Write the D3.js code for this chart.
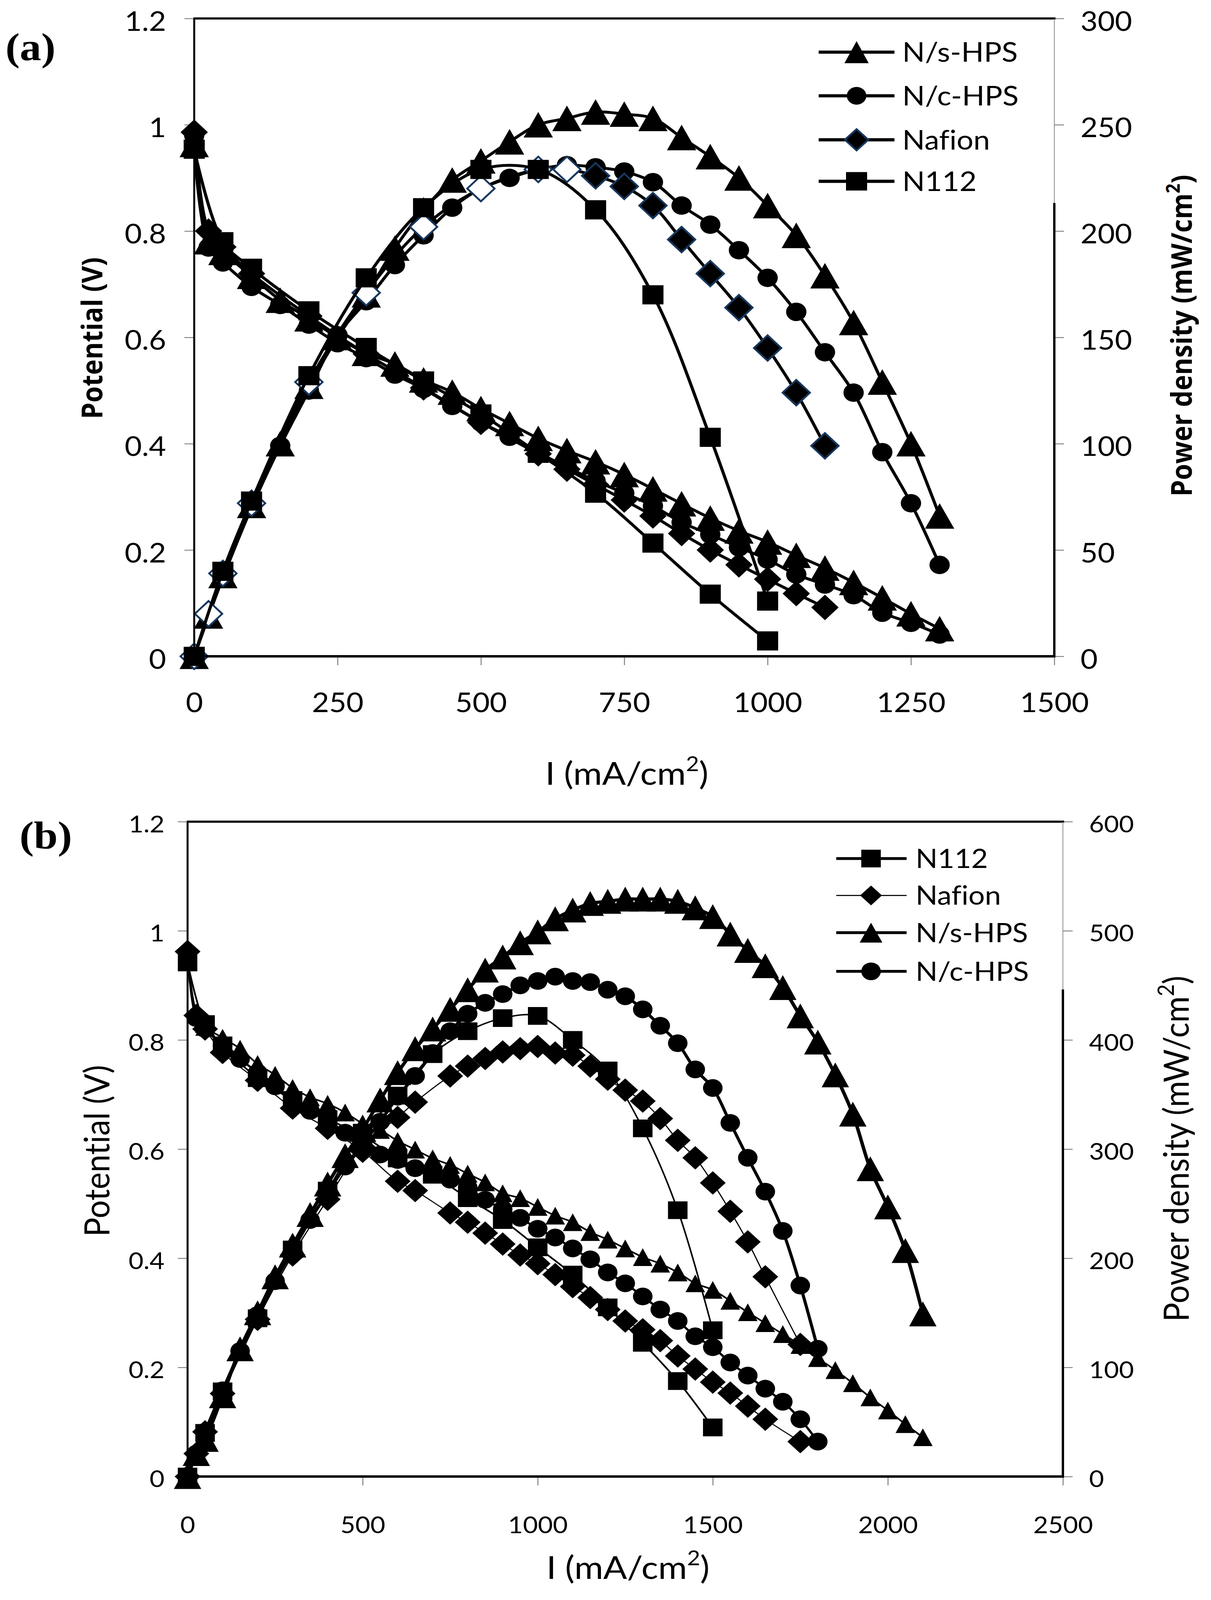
<!DOCTYPE html>
<html>
<head>
<meta charset="utf-8">
<script src="https://cdn.jsdelivr.net/npm/d3@7"></script>
<style>
  html, body { margin: 0; padding: 0; background: #fff; overflow: hidden; }
  svg { display: block; width: 100vw; height: 100vh; }
  text { font-variant-ligatures: none; font-feature-settings: "liga" 0; }
</style>
</head>
<body>
<svg id="fig" viewBox="0 0 3099 4510" preserveAspectRatio="none"></svg>
<script>
// ---------- panel (a) data ----------
var aCurrent = [0,25,50,100,150,200,250,300,350,400,450,500,550,600,650,700,750,800,850,900,950,1000,1050,1100,1150,1200,1250,1300];
var aNsV = [0.963,0.78,0.76,0.715,0.67,0.635,0.6,0.57,0.55,0.52,0.497,0.466,0.438,0.41,0.387,0.366,0.342,0.315,0.287,0.26,0.236,0.215,0.19,0.166,0.139,0.11,0.08,0.052];
var aNsP = [0,19,38,71,100,127,150,170,192,210,224,233,242,250,253,256,255,253,244,235,225,212,198,179,157,129,100,66];
var aNcV = [0.98,0.769,0.741,0.695,0.661,0.624,0.589,0.561,0.53,0.503,0.471,0.44,0.413,0.383,0.356,0.33,0.307,0.283,0.252,0.229,0.205,0.182,0.154,0.135,0.115,0.082,0.063,0.041];
var aNcP = [0,19,37,70,99,125,151,167,184,198,211,220,225,229,231,230,228,223,212,203,191,178,162,143,124,96,72,43];
var aNafionI = [0,25,50,100,200,300,400,500,600,650,700,750,800,850,900,950,1000,1050,1100];
var aNafionV = [0.986,0.8,0.77,0.72,0.64,0.569,0.505,0.44,0.381,0.352,0.323,0.294,0.264,0.231,0.2,0.172,0.145,0.118,0.092];
var aNafionP = [0,20,39,72,129,171,202,220,229,229,226,221,212,196,180,164,145,124,99];
var aN112I = [0,50,100,200,300,400,500,600,700,800,900,1000];
var aN112V = [0.954,0.78,0.73,0.65,0.581,0.518,0.456,0.382,0.307,0.213,0.117,0.029];
var aN112P = [0,40,73,132,178,211,229,229,210,170,103,26];

// ---------- panel (b) data ----------
var bNsI = [0,25,50,100,150,200,250,300,350,400,450,500,550,600,650,700,750,800,850,900,950,1000,1050,1100,1150,1200,1250,1300,1350,1400,1450,1500,1550,1600,1650,1700,1750,1800,1850,1900,1950,2000,2050,2100];
var bNsV = [0.955,0.85,0.824,0.804,0.784,0.756,0.736,0.712,0.695,0.683,0.667,0.647,0.635,0.615,0.599,0.583,0.571,0.555,0.539,0.519,0.51,0.494,0.478,0.466,0.448,0.434,0.418,0.402,0.39,0.374,0.354,0.342,0.322,0.301,0.281,0.261,0.241,0.217,0.195,0.171,0.145,0.121,0.096,0.072];
var bNsP = [0,21,34,74,117,150,183,212,240,268,294,318,345,370,392,410,428,446,464,476,489,499,511,519,525,527,529,529,529,527,521,513,497,482,468,448,422,398,368,332,282,247,207,149];
var bNcI = [0,25,50,100,150,200,250,300,350,400,450,500,550,600,650,700,750,800,850,900,950,1000,1050,1100,1150,1200,1250,1300,1350,1400,1450,1500,1550,1600,1650,1700,1750,1800];
var bNcV = [0.96,0.84,0.82,0.79,0.765,0.74,0.715,0.69,0.67,0.65,0.63,0.61,0.59,0.58,0.565,0.555,0.544,0.53,0.507,0.49,0.474,0.454,0.438,0.418,0.398,0.374,0.354,0.33,0.306,0.285,0.257,0.237,0.209,0.185,0.161,0.137,0.105,0.064];
var bNcP = [0,21,41,79,115,148,179,207,235,260,284,305,325,348,367,388,408,424,434,442,450,454,458,454,453,446,440,428,413,397,373,356,324,292,261,225,175,117];
var bNafionI = [0,25,50,100,200,300,400,500,600,650,750,800,850,900,950,1000,1050,1100,1150,1200,1250,1300,1350,1400,1450,1500,1550,1600,1650,1750];
var bNafionV = [0.962,0.845,0.82,0.777,0.726,0.675,0.638,0.596,0.541,0.524,0.483,0.466,0.446,0.426,0.406,0.39,0.37,0.348,0.328,0.306,0.285,0.269,0.249,0.221,0.197,0.173,0.153,0.129,0.105,0.064];
var bNafionP = [0,21,41,76,144,203,254,302,329,343,367,376,383,389,392,394,388,386,376,364,354,344,328,308,292,269,243,215,183,121];
var bN112I = [0,50,100,200,300,400,500,600,700,800,900,1000,1100,1200,1300,1400,1500];
var bN112V = [0.942,0.829,0.79,0.73,0.69,0.655,0.625,0.583,0.553,0.51,0.47,0.42,0.37,0.31,0.245,0.175,0.09];
var bN112P = [0,40,78,145,208,262,315,349,387,408,420,422,400,372,319,244,134];

// ---------- tick labels ----------
var potentialTicks = [0,0.2,0.4,0.6,0.8,1,1.2];
var aCurrentTicks = [0,250,500,750,1000,1250,1500];
var aPowerTicks = [0,50,100,150,200,250,300];
var bCurrentTicks = [0,500,1000,1500,2000,2500];
var bPowerTicks = [0,100,200,300,400,500,600];

var NAVY = '#17375e';
var svg = d3.select('#fig');
svg.append('rect').attr('width', 3099).attr('height', 4510).attr('fill', '#fff');

// marker outline centred on 0,0
function markerPath(shape, w, h) {
    if (shape === 'triangle') return 'M0,' + (-h/2) + 'L' + (w/2) + ',' + (h/2) + 'L' + (-w/2) + ',' + (h/2) + 'Z';
    if (shape === 'diamond') return 'M0,' + (-h/2) + 'L' + (w/2) + ',0L0,' + (h/2) + 'L' + (-w/2) + ',0Z';
    if (shape === 'square') return 'M' + (-w/2) + ',' + (-h/2) + 'h' + w + 'v' + h + 'h' + (-w) + 'Z';
    // circle
    var r = w / 2;
    return 'M' + (-r) + ',0a' + r + ',' + r + ' 0 1,0 ' + (2*r) + ',0a' + r + ',' + r + ' 0 1,0 ' + (-2*r) + ',0Z';
}

function drawCurve(g, xs, ys, curr, vals, st) {
    var pts = curr.map(function(c, i) { return [c, vals[i]]; });
    var line = d3.line()
        .x(function(d) { return xs(d[0]); })
        .y(function(d) { return ys(d[1]); })
        .curve(d3.curveCatmullRom.alpha(0.5));
    g.append('path')
        .attr('d', line(pts))
        .attr('fill', 'none')
        .attr('stroke', '#000')
        .attr('stroke-width', st.lw)
        .attr('stroke-linejoin', 'round');
    g.selectAll(null).data(pts).enter().append('path')
        .attr('d', markerPath(st.shape, st.w, st.h))
        .attr('transform', function(d) { return 'translate(' + xs(d[0]) + ',' + ys(d[1]) + ')'; })
        .attr('fill', function(d) { return typeof st.fill === 'function' ? st.fill(d) : st.fill; })
        .attr('stroke', st.stroke || 'none')
        .attr('stroke-width', st.sw || 0);
}

function styleAxis(ax, fontSize) {
    ax.select('.domain').remove();
    ax.selectAll('.tick line').attr('stroke', '#808080').attr('stroke-width', 2.5);
    ax.selectAll('.tick text')
        .attr('font-family', 'Lato, sans-serif')
        .attr('font-size', fontSize)
        .attr('fill', '#000');
}

function rotatedTitle(g, x, y, main, sup, tail, font) {
    var t = g.append('text')
        .attr('transform', 'translate(' + x + ',' + y + ') rotate(-90)')
        .attr('text-anchor', 'middle')
        .attr('font-family', font.family)
        .attr('font-weight', font.weight)
        .attr('font-size', font.size)
        .attr('fill', '#000');
    t.append('tspan').text(main);
    if (sup) {
        t.append('tspan').attr('font-size', font.size * 0.65).attr('dy', -font.size * 0.42).text(sup);
        t.append('tspan').attr('dy', font.size * 0.42).text(tail);
    }
}

function drawPanel(p) {
    var g = svg.append('g');
    var x = d3.scaleLinear().domain(p.xDomain).range([p.left, p.right]);
    var yV = d3.scaleLinear().domain([0, 1.2]).range([p.bottom, p.top]);
    var yP = d3.scaleLinear().domain([0, p.pMax]).range([p.bottom, p.top]);

    // axes
    var axL = g.append('g').attr('transform', 'translate(' + p.left + ',0)')
        .call(d3.axisLeft(yV).tickValues(potentialTicks).tickSize(25).tickPadding(p.padL).tickFormat(function(d) { return String(d); }));
    styleAxis(axL, p.tickFont);
    axL.selectAll('.tick text').attr('dy', '0.45em');
    var axB = g.append('g').attr('transform', 'translate(0,' + p.bottom + ')')
        .call(d3.axisBottom(x).tickValues(p.xTicks).tickSize(25).tickPadding(p.padB).tickFormat(function(d) { return String(d); }));
    styleAxis(axB, p.tickFont);
    var axR = g.append('g').attr('transform', 'translate(' + p.right + ',0)')
        .call(d3.axisRight(yP).tickValues(p.pTicks).tickSize(25).tickPadding(p.padR).tickFormat(function(d) { return String(d); }));
    styleAxis(axR, p.tickFont);
    axR.selectAll('.tick text').attr('dy', '0.45em');

    // series
    var plot = g.append('g');
    p.series.forEach(function(s) {
        drawCurve(plot, x, yP, s.I, s.P, s.pStyle);
        drawCurve(plot, x, yV, s.I, s.V, s.vStyle);
    });

    // legend
    var lg = g.append('g');
    lg.append('rect')
        .attr('x', p.legend.x0 - 20).attr('y', p.top + 8)
        .attr('width', p.right - p.legend.x0 + 20).attr('height', p.legend.boxBottom - p.top - 8)
        .attr('fill', '#fff');
    p.legend.items.forEach(function(it, i) {
        var yy = p.legend.rows[i];
        lg.append('line')
            .attr('x1', p.legend.x0).attr('x2', p.legend.x1)
            .attr('y1', yy).attr('y2', yy)
            .attr('stroke', '#000').attr('stroke-width', it.lw);
        lg.append('path')
            .attr('d', markerPath(it.shape, it.w, it.h))
            .attr('transform', 'translate(' + p.legend.xm + ',' + yy + ')')
            .attr('fill', '#000')
            .attr('stroke', it.stroke || 'none')
            .attr('stroke-width', it.sw || 0);
        lg.append('text')
            .attr('x', p.legend.xt).attr('y', yy).attr('dy', '0.36em')
            .attr('font-family', 'Lato, sans-serif').attr('font-size', p.legend.font)
            .text(it.name);
    });

    // frame
    var fr = g.append('g').attr('stroke', '#000').attr('fill', 'none');
    fr.append('line').attr('x1', p.left - 2).attr('x2', p.right + 3).attr('y1', p.top).attr('y2', p.top).attr('stroke-width', 6);
    fr.append('line').attr('x1', p.left - 2).attr('x2', p.right + 3).attr('y1', p.bottom).attr('y2', p.bottom).attr('stroke-width', 7);
    fr.append('line').attr('x1', p.left).attr('x2', p.left).attr('y1', p.top).attr('y2', p.bottom).attr('stroke-width', 5);
    fr.append('line').attr('x1', p.right).attr('x2', p.right).attr('y1', p.top).attr('y2', p.legend.boxBottom)
        .attr('stroke', '#8c8c8c').attr('stroke-width', 2);
    fr.append('line').attr('x1', p.right).attr('x2', p.right).attr('y1', p.legend.boxBottom).attr('y2', p.bottom).attr('stroke-width', 6);

    // titles
    rotatedTitle(g, p.titleL.x, p.titleL.y, 'Potential (V)', null, null, p.titleFont);
    rotatedTitle(g, p.titleR.x, p.titleR.y, 'Power density (mW/cm', '2', ')', p.titleFont);
    var xt = g.append('text')
        .attr('x', p.titleX.x).attr('y', p.titleX.y)
        .attr('text-anchor', 'middle')
        .attr('font-family', 'Lato, sans-serif').attr('font-size', 90).attr('fill', '#000');
    xt.append('tspan').text('I (mA/cm');
    xt.append('tspan').attr('font-size', 58).attr('dy', -38).text('2');
    xt.append('tspan').attr('dy', 38).text(')');

    g.append('text')
        .attr('x', p.tag.x).attr('y', p.tag.y)
        .attr('font-family', '"Liberation Serif", "Times New Roman", serif')
        .attr('font-weight', 'bold').attr('font-size', 110)
        .text(p.tag.text);
}

// ---------- panel (a) ----------
var aTri = {shape: 'triangle', w: 75, h: 72, fill: '#000', lw: 8};
var aCir = {shape: 'circle', w: 52, h: 52, fill: '#000', lw: 8};
var aSq = {shape: 'square', w: 54, h: 54, fill: '#000', lw: 8};
var aDiaV = {shape: 'diamond', w: 70, h: 72, fill: '#000', lw: 8};
var aDiaP = {shape: 'diamond', w: 70, h: 72, lw: 8, stroke: NAVY, sw: 5,
    fill: function(d) { return d[0] <= 650 ? '#fff' : '#000'; }};

drawPanel({
    left: 497, right: 2698, top: 52, bottom: 1850,
    xDomain: [0, 1500], pMax: 300,
    xTicks: aCurrentTicks, pTicks: aPowerTicks,
    tickFont: 76, padL: 47, padB: 78, padR: 42,
    series: [
        {I: aCurrent, V: aNsV, P: aNsP, vStyle: aTri, pStyle: aTri},
        {I: aCurrent, V: aNcV, P: aNcP, vStyle: aCir, pStyle: aCir},
        {I: aNafionI, V: aNafionV, P: aNafionP, vStyle: aDiaV, pStyle: aDiaP},
        {I: aN112I, V: aN112V, P: aN112P, vStyle: aSq, pStyle: aSq}
    ],
    legend: {
        x0: 2095, x1: 2289, xm: 2192, xt: 2309, font: 76, boxBottom: 572,
        rows: [147, 270, 394, 511],
        items: [
            {name: 'N/s-HPS', shape: 'triangle', w: 62, h: 62, lw: 9},
            {name: 'N/c-HPS', shape: 'circle', w: 50, h: 50, lw: 9},
            {name: 'Nafion', shape: 'diamond', w: 60, h: 60, lw: 9, stroke: NAVY, sw: 5},
            {name: 'N112', shape: 'square', w: 54, h: 52, lw: 9}
        ]
    },
    titleFont: {family: '"Open Sans", sans-serif', weight: 'bold', size: 74},
    titleL: {x: 262, y: 953}, titleR: {x: 3050, y: 946},
    titleX: {x: 1604, y: 2212},
    tag: {x: 14, y: 170, text: '(a)'}
});

// ---------- panel (b) ----------
drawPanel({
    left: 480, right: 2720, top: 2316, bottom: 4162,
    xDomain: [0, 2500], pMax: 600,
    xTicks: bCurrentTicks, pTicks: bPowerTicks,
    tickFont: 66, padL: 34, padB: 88, padR: 42,
    series: [
        {I: bN112I, V: bN112V, P: bN112P,
            vStyle: {shape: 'square', w: 50, h: 50, fill: '#000', lw: 4.5},
            pStyle: {shape: 'square', w: 50, h: 50, fill: '#000', lw: 4}},
        {I: bNafionI, V: bNafionV, P: bNafionP,
            vStyle: {shape: 'diamond', w: 66, h: 66, fill: '#000', lw: 3},
            pStyle: {shape: 'diamond', w: 66, h: 66, fill: '#000', lw: 3}},
        {I: bNsI, V: bNsV, P: bNsP,
            vStyle: {shape: 'triangle', w: 50, h: 50, fill: '#000', lw: 4.5},
            pStyle: {shape: 'triangle', w: 70, h: 70, fill: '#000', lw: 9}},
        {I: bNcI, V: bNcV, P: bNcP,
            vStyle: {shape: 'circle', w: 50, h: 50, fill: '#000', lw: 6},
            pStyle: {shape: 'circle', w: 50, h: 50, fill: '#000', lw: 8}}
    ],
    legend: {
        x0: 2140, x1: 2320, xm: 2229, xt: 2343, font: 74, boxBottom: 2789,
        rows: [2420, 2524, 2629, 2738],
        items: [
            {name: 'N112', shape: 'square', w: 50, h: 50, lw: 8},
            {name: 'Nafion', shape: 'diamond', w: 56, h: 56, lw: 3},
            {name: 'N/s-HPS', shape: 'triangle', w: 58, h: 56, lw: 8},
            {name: 'N/c-HPS', shape: 'circle', w: 50, h: 50, lw: 8}
        ]
    },
    titleFont: {family: 'Lato, sans-serif', weight: 'normal', size: 90},
    titleL: {x: 280, y: 3244}, titleR: {x: 3042, y: 3238},
    titleX: {x: 1607, y: 4450},
    tag: {x: 50, y: 2392, text: '(b)'}
});
</script>
</body>
</html>
